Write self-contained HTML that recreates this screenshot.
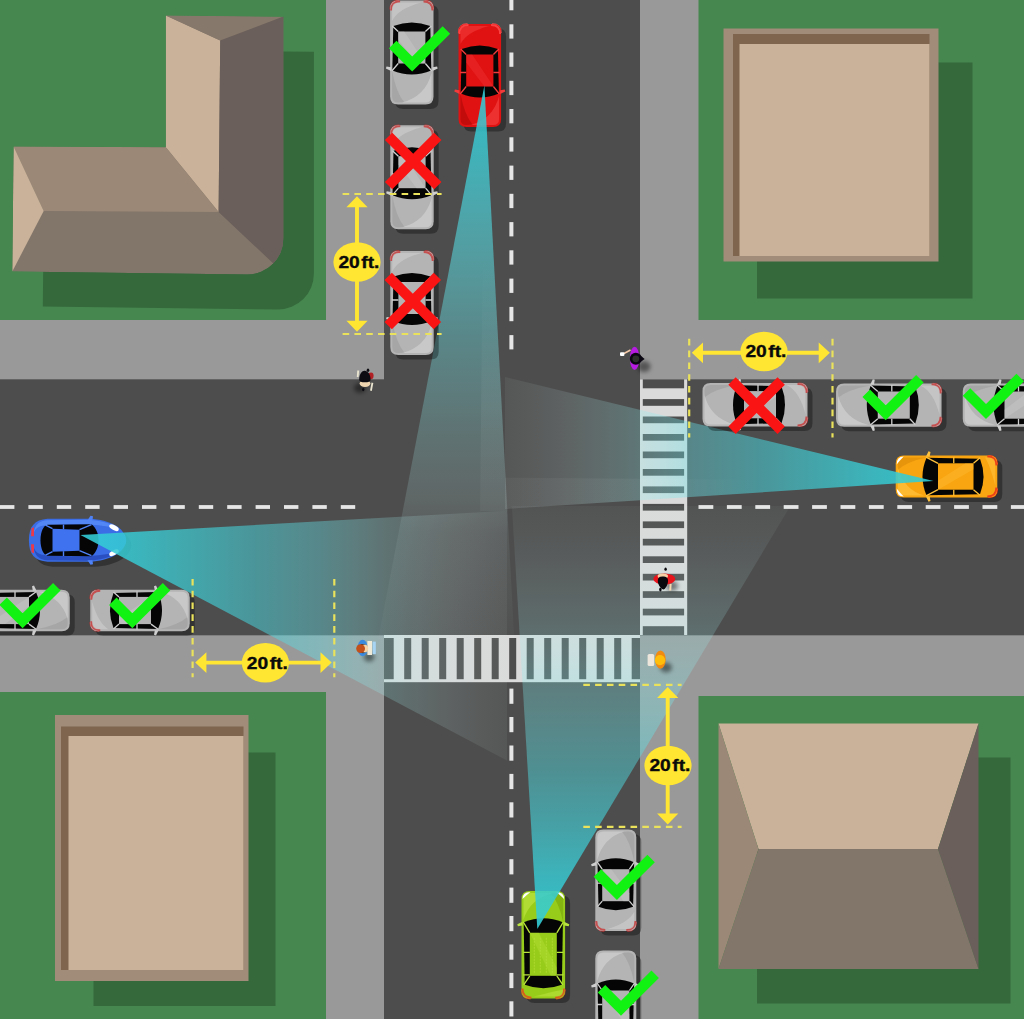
<!DOCTYPE html>
<html lang="en">
<head>
<meta charset="utf-8">
<title>Intersection parking clearance - 20 ft.</title>
<style>html,body{margin:0;padding:0;background:#46874f;}svg{display:block;}</style>
</head>
<body>
<svg width="1024" height="1019" viewBox="0 0 1024 1019">
<defs>
<filter id="blur2" x="-50%" y="-50%" width="200%" height="200%"><feGaussianBlur stdDeviation="2"/></filter>
<filter id="blur1" x="-50%" y="-50%" width="200%" height="200%"><feGaussianBlur stdDeviation="0.9"/></filter>
<clipPath id="clipL"><path d="M165.8,15.5 L283.4,16.8 L283.4,238.6 A36,36 0 0 1 247.4,274.6 L12.3,271.4 L13.6,146.4 L165.8,147.3 Z"/></clipPath>
<linearGradient id="gR" gradientUnits="userSpaceOnUse" x1="484.4" y1="85.6" x2="484.4" y2="645"><stop offset="0" stop-color="rgb(50, 205, 215)" stop-opacity="0.9"/><stop offset="0.08" stop-color="rgb(55, 200, 210)" stop-opacity="0.85"/><stop offset="0.25" stop-color="rgb(80, 215, 222)" stop-opacity="0.62"/><stop offset="0.45" stop-color="rgb(110, 235, 240)" stop-opacity="0.365"/><stop offset="0.61" stop-color="rgb(150, 240, 240)" stop-opacity="0.24"/><stop offset="0.74" stop-color="rgb(190, 235, 235)" stop-opacity="0.16"/><stop offset="0.8" stop-color="rgb(200, 232, 232)" stop-opacity="0.085"/><stop offset="1.0" stop-color="rgb(215, 230, 230)" stop-opacity="0.02"/></linearGradient>
<linearGradient id="gO" gradientUnits="userSpaceOnUse" x1="933.5" y1="481.1" x2="505" y2="481.1"><stop offset="0" stop-color="rgb(50, 205, 215)" stop-opacity="0.9"/><stop offset="0.1" stop-color="rgb(54, 202, 211)" stop-opacity="0.86"/><stop offset="0.27" stop-color="rgb(62, 205, 212)" stop-opacity="0.69"/><stop offset="0.41" stop-color="rgb(72, 212, 220)" stop-opacity="0.53"/><stop offset="0.56" stop-color="rgb(102, 227, 234)" stop-opacity="0.39"/><stop offset="0.7" stop-color="rgb(150, 240, 240)" stop-opacity="0.245"/><stop offset="0.87" stop-color="rgb(198, 228, 228)" stop-opacity="0.135"/><stop offset="1.0" stop-color="rgb(215, 226, 226)" stop-opacity="0.06"/></linearGradient>
<linearGradient id="gG" gradientUnits="userSpaceOnUse" x1="537.3" y1="929" x2="537.3" y2="506"><stop offset="0" stop-color="rgb(50, 205, 215)" stop-opacity="0.9"/><stop offset="0.1" stop-color="rgb(54, 202, 211)" stop-opacity="0.85"/><stop offset="0.25" stop-color="rgb(66, 208, 216)" stop-opacity="0.63"/><stop offset="0.376" stop-color="rgb(80, 218, 224)" stop-opacity="0.47"/><stop offset="0.565" stop-color="rgb(130, 238, 240)" stop-opacity="0.31"/><stop offset="0.7" stop-color="rgb(160, 240, 240)" stop-opacity="0.2"/><stop offset="0.87" stop-color="rgb(195, 235, 235)" stop-opacity="0.1"/><stop offset="1.0" stop-color="rgb(212, 230, 230)" stop-opacity="0.04"/></linearGradient>
<linearGradient id="gB" gradientUnits="userSpaceOnUse" x1="80.5" y1="535" x2="507" y2="535"><stop offset="0" stop-color="rgb(50, 205, 215)" stop-opacity="0.9"/><stop offset="0.1" stop-color="rgb(54, 202, 211)" stop-opacity="0.86"/><stop offset="0.27" stop-color="rgb(62, 205, 212)" stop-opacity="0.69"/><stop offset="0.41" stop-color="rgb(72, 212, 220)" stop-opacity="0.53"/><stop offset="0.56" stop-color="rgb(102, 227, 234)" stop-opacity="0.39"/><stop offset="0.7" stop-color="rgb(150, 240, 240)" stop-opacity="0.245"/><stop offset="0.87" stop-color="rgb(198, 228, 228)" stop-opacity="0.135"/><stop offset="1.0" stop-color="rgb(215, 226, 226)" stop-opacity="0.06"/></linearGradient>
<linearGradient id="iR" gradientUnits="userSpaceOnUse" x1="484.4" y1="85.6" x2="484.4" y2="511"><stop offset="0" stop-color="#fff" stop-opacity="0"/><stop offset="0.4" stop-color="#fff" stop-opacity="0"/><stop offset="0.75" stop-color="#eef6f6" stop-opacity="0.055"/><stop offset="1" stop-color="#eef6f6" stop-opacity="0.04"/></linearGradient>
<linearGradient id="iO" gradientUnits="userSpaceOnUse" x1="933.5" y1="481.1" x2="505" y2="481.1"><stop offset="0" stop-color="#fff" stop-opacity="0"/><stop offset="0.4" stop-color="#fff" stop-opacity="0"/><stop offset="0.75" stop-color="#eef6f6" stop-opacity="0.055"/><stop offset="1" stop-color="#eef6f6" stop-opacity="0.04"/></linearGradient>
<linearGradient id="iG" gradientUnits="userSpaceOnUse" x1="537.3" y1="929" x2="537.3" y2="506"><stop offset="0" stop-color="#fff" stop-opacity="0"/><stop offset="0.4" stop-color="#fff" stop-opacity="0"/><stop offset="0.75" stop-color="#eef6f6" stop-opacity="0.055"/><stop offset="1" stop-color="#eef6f6" stop-opacity="0.04"/></linearGradient>
<linearGradient id="iB" gradientUnits="userSpaceOnUse" x1="80.5" y1="535" x2="507" y2="535"><stop offset="0" stop-color="#fff" stop-opacity="0"/><stop offset="0.4" stop-color="#fff" stop-opacity="0"/><stop offset="0.75" stop-color="#eef6f6" stop-opacity="0.055"/><stop offset="1" stop-color="#eef6f6" stop-opacity="0.04"/></linearGradient>
</defs>
<rect width="1024" height="1019" fill="#46874f"/>
<rect x="326" y="0" width="372.5" height="1019" fill="#999999"/>
<rect x="0" y="320" width="1024" height="372" fill="#999999"/>
<rect x="512" y="320" width="512" height="376" fill="#999999"/>
<rect x="384" y="0" width="256" height="1019" fill="#4d4d4d"/>
<rect x="0" y="379.3" width="1024" height="256" fill="#4d4d4d"/>
<path d="M196.3,50.5 L313.9,51.8 L313.9,273.6 A36,36 0 0 1 277.9,309.6 L42.8,306.4 L44.1,181.4 L196.3,182.3 Z" fill="#35693c"/>
<g clip-path="url(#clipL)">
<path d="M165.8,15.5 L283.4,16.8 L283.4,238.6 A36,36 0 0 1 247.4,274.6 L12.3,271.4 L13.6,146.4 L165.8,147.3 Z" fill="#82756a"/>
<path d="M165.8,15.5 L220.2,40.5 L218.6,212.1 L165.8,147.3 Z" fill="#c9b299"/>
<path d="M165.8,15.5 L283.4,16.8 L220.2,40.5 Z" fill="#86786b"/>
<path d="M290,14 L290,280 L286.5,275.8 L218.6,212.1 L220.2,40.5 Z" fill="#6a5f5a"/>
<path d="M13.6,146.4 L165.8,147.3 L218.6,212.1 L43.7,211.1 Z" fill="#9b8876"/>
<path d="M13.6,146.4 L43.7,211.1 L12.3,271.4 Z" fill="#c9b299"/>
</g>
<rect x="757" y="62.5" width="215.5" height="236.0" fill="#35693c"/>
<rect x="723.5" y="28.5" width="215.0" height="233.0" fill="#a08c78"/>
<rect x="733" y="34" width="196.5" height="222" fill="#7f654e"/>
<rect x="739.5" y="44" width="190.0" height="212" fill="#c9b299"/>
<rect x="93.5" y="752.5" width="182.0" height="253.5" fill="#35693c"/>
<rect x="55" y="715" width="193.5" height="266" fill="#a08c78"/>
<rect x="61" y="726.5" width="182.5" height="243.5" fill="#7f654e"/>
<rect x="68.5" y="736" width="175.0" height="234" fill="#c9b299"/>
<rect x="757" y="757.5" width="253.5" height="246" fill="#35693c"/>
<path d="M718.5,723.5 L978.5,723.5 L938,849 L758.5,849 Z" fill="#c9b299"/>
<path d="M718.5,723.5 L758.5,849 L718.5,969 Z" fill="#9b8876"/>
<path d="M978.5,723.5 L938,849 L978.5,969 Z" fill="#6a5f5a"/>
<path d="M758.5,849 L938,849 L978.5,969 L718.5,969 Z" fill="#82756a"/>
<rect x="509.4" y="0.0" width="4" height="10.3" fill="#e6e6e6"/>
<rect x="509.4" y="24.3" width="4" height="14.3" fill="#e6e6e6"/>
<rect x="509.4" y="52.5" width="4" height="14.3" fill="#e6e6e6"/>
<rect x="509.4" y="80.8" width="4" height="14.3" fill="#e6e6e6"/>
<rect x="509.4" y="109.0" width="4" height="14.3" fill="#e6e6e6"/>
<rect x="509.4" y="137.3" width="4" height="14.3" fill="#e6e6e6"/>
<rect x="509.4" y="165.6" width="4" height="14.3" fill="#e6e6e6"/>
<rect x="509.4" y="193.8" width="4" height="14.3" fill="#e6e6e6"/>
<rect x="509.4" y="222.1" width="4" height="14.3" fill="#e6e6e6"/>
<rect x="509.4" y="250.3" width="4" height="14.3" fill="#e6e6e6"/>
<rect x="509.4" y="278.6" width="4" height="14.3" fill="#e6e6e6"/>
<rect x="509.4" y="306.9" width="4" height="14.3" fill="#e6e6e6"/>
<rect x="509.4" y="335.1" width="4" height="14.3" fill="#e6e6e6"/>
<rect x="509.4" y="688.6" width="4" height="15.2" fill="#e6e6e6"/>
<rect x="509.4" y="717.0" width="4" height="15.2" fill="#e6e6e6"/>
<rect x="509.4" y="745.5" width="4" height="15.2" fill="#e6e6e6"/>
<rect x="509.4" y="773.9" width="4" height="15.2" fill="#e6e6e6"/>
<rect x="509.4" y="802.3" width="4" height="15.2" fill="#e6e6e6"/>
<rect x="509.4" y="830.7" width="4" height="15.2" fill="#e6e6e6"/>
<rect x="509.4" y="859.2" width="4" height="15.2" fill="#e6e6e6"/>
<rect x="509.4" y="887.6" width="4" height="15.2" fill="#e6e6e6"/>
<rect x="509.4" y="916.0" width="4" height="15.2" fill="#e6e6e6"/>
<rect x="509.4" y="944.5" width="4" height="15.2" fill="#e6e6e6"/>
<rect x="509.4" y="972.9" width="4" height="15.2" fill="#e6e6e6"/>
<rect x="509.4" y="1001.3" width="4" height="15.2" fill="#e6e6e6"/>
<rect x="0.0" y="505.1" width="14.4" height="3.8" fill="#e6e6e6"/>
<rect x="28.4" y="505.1" width="14.4" height="3.8" fill="#e6e6e6"/>
<rect x="56.8" y="505.1" width="14.4" height="3.8" fill="#e6e6e6"/>
<rect x="85.2" y="505.1" width="14.4" height="3.8" fill="#e6e6e6"/>
<rect x="113.6" y="505.1" width="14.4" height="3.8" fill="#e6e6e6"/>
<rect x="142.0" y="505.1" width="14.4" height="3.8" fill="#e6e6e6"/>
<rect x="170.4" y="505.1" width="14.4" height="3.8" fill="#e6e6e6"/>
<rect x="198.8" y="505.1" width="14.4" height="3.8" fill="#e6e6e6"/>
<rect x="227.2" y="505.1" width="14.4" height="3.8" fill="#e6e6e6"/>
<rect x="255.6" y="505.1" width="14.4" height="3.8" fill="#e6e6e6"/>
<rect x="284.0" y="505.1" width="14.4" height="3.8" fill="#e6e6e6"/>
<rect x="312.4" y="505.1" width="14.4" height="3.8" fill="#e6e6e6"/>
<rect x="340.8" y="505.1" width="14.4" height="3.8" fill="#e6e6e6"/>
<rect x="698.5" y="505.1" width="14.8" height="3.8" fill="#e6e6e6"/>
<rect x="726.9" y="505.1" width="14.8" height="3.8" fill="#e6e6e6"/>
<rect x="755.3" y="505.1" width="14.8" height="3.8" fill="#e6e6e6"/>
<rect x="783.7" y="505.1" width="14.8" height="3.8" fill="#e6e6e6"/>
<rect x="812.1" y="505.1" width="14.8" height="3.8" fill="#e6e6e6"/>
<rect x="840.5" y="505.1" width="14.8" height="3.8" fill="#e6e6e6"/>
<rect x="868.9" y="505.1" width="14.8" height="3.8" fill="#e6e6e6"/>
<rect x="897.3" y="505.1" width="14.8" height="3.8" fill="#e6e6e6"/>
<rect x="925.7" y="505.1" width="14.8" height="3.8" fill="#e6e6e6"/>
<rect x="954.1" y="505.1" width="14.8" height="3.8" fill="#e6e6e6"/>
<rect x="982.5" y="505.1" width="14.8" height="3.8" fill="#e6e6e6"/>
<rect x="1010.9" y="505.1" width="13.1" height="3.8" fill="#e6e6e6"/>
<rect x="384" y="635" width="256" height="47.2" fill="#dadada"/>
<rect x="384.0" y="638" width="9.7" height="41.2" fill="#4d4d4d"/>
<rect x="404.2" y="638" width="7.0" height="41.2" fill="#4d4d4d"/>
<rect x="421.7" y="638" width="7.0" height="41.2" fill="#4d4d4d"/>
<rect x="439.2" y="638" width="7.0" height="41.2" fill="#4d4d4d"/>
<rect x="456.7" y="638" width="7.0" height="41.2" fill="#4d4d4d"/>
<rect x="474.2" y="638" width="7.0" height="41.2" fill="#4d4d4d"/>
<rect x="491.7" y="638" width="7.0" height="41.2" fill="#4d4d4d"/>
<rect x="509.2" y="638" width="7.0" height="41.2" fill="#4d4d4d"/>
<rect x="526.7" y="638" width="7.0" height="41.2" fill="#4d4d4d"/>
<rect x="544.2" y="638" width="7.0" height="41.2" fill="#4d4d4d"/>
<rect x="561.7" y="638" width="7.0" height="41.2" fill="#4d4d4d"/>
<rect x="579.2" y="638" width="7.0" height="41.2" fill="#4d4d4d"/>
<rect x="596.7" y="638" width="7.0" height="41.2" fill="#4d4d4d"/>
<rect x="614.2" y="638" width="7.0" height="41.2" fill="#4d4d4d"/>
<rect x="631.7" y="638" width="8.3" height="41.2" fill="#4d4d4d"/>
<rect x="640" y="379.3" width="47.2" height="255.7" fill="#dadada"/>
<rect x="642.8" y="379.3" width="41.3" height="9.0" fill="#4d4d4d"/>
<rect x="642.8" y="399.1" width="41.3" height="6.7" fill="#4d4d4d"/>
<rect x="642.8" y="416.5" width="41.3" height="6.7" fill="#4d4d4d"/>
<rect x="642.8" y="434.0" width="41.3" height="6.7" fill="#4d4d4d"/>
<rect x="642.8" y="451.5" width="41.3" height="6.7" fill="#4d4d4d"/>
<rect x="642.8" y="469.0" width="41.3" height="6.7" fill="#4d4d4d"/>
<rect x="642.8" y="486.4" width="41.3" height="6.7" fill="#4d4d4d"/>
<rect x="642.8" y="503.9" width="41.3" height="6.7" fill="#4d4d4d"/>
<rect x="642.8" y="521.4" width="41.3" height="6.7" fill="#4d4d4d"/>
<rect x="642.8" y="538.8" width="41.3" height="6.7" fill="#4d4d4d"/>
<rect x="642.8" y="556.3" width="41.3" height="6.7" fill="#4d4d4d"/>
<rect x="642.8" y="573.8" width="41.3" height="6.7" fill="#4d4d4d"/>
<rect x="642.8" y="591.2" width="41.3" height="6.7" fill="#4d4d4d"/>
<rect x="642.8" y="608.7" width="41.3" height="6.7" fill="#4d4d4d"/>
<rect x="642.8" y="626.2" width="41.3" height="8.8" fill="#4d4d4d"/>
<g transform="translate(479.8,75.5) rotate(180)"><path d="M-13.3,-51.5 L13.3,-51.5 Q21.3,-51.5 21.3,-43.5 L21.3,43.5 Q21.3,51.5 13.3,51.5 L-13.3,51.5 Q-21.3,51.5 -21.3,43.5 L-21.3,-43.5 Q-21.3,-51.5 -13.3,-51.5 Z" transform="translate(-5.00,-4.50)" fill="#000" fill-opacity="0.33"/><path d="M-21.900000000000002,42.5 Q-21.900000000000002,52.3 -12.3,52.3 L-12.3,49.5 L-19.3,42.5 Z" fill="#ff5050"/><path d="M21.900000000000002,42.5 Q21.900000000000002,52.3 12.3,52.3 L12.3,49.5 L19.3,42.5 Z" fill="#ff5050"/><path d="M-13.3,-51.5 L13.3,-51.5 Q21.3,-51.5 21.3,-43.5 L21.3,43.5 Q21.3,51.5 13.3,51.5 L-13.3,51.5 Q-21.3,51.5 -21.3,43.5 L-21.3,-43.5 Q-21.3,-51.5 -13.3,-51.5 Z" fill="#e01212"/><path d="M-20.3,41.5 Q-20.3,50.5 -11.3,50.5 M20.3,41.5 Q20.3,50.5 11.3,50.5" stroke="#ff5050" stroke-width="1.9" fill="none" stroke-opacity="0.8"/><path d="M-19.3,-43.5 Q-19.3,-49.5 -13.3,-49.5 L9.3,-49.5 Q-13.3,-43.5 -19.3,-20.5 Z" fill="#f23b3b" fill-opacity="0.75"/><path d="M19.3,43.5 Q19.3,49.5 13.3,49.5 L-9.3,49.5 Q13.3,43.5 19.3,31.5 Z" fill="#f23b3b" fill-opacity="0.6"/><path d="M19.3,-43.5 L19.3,-18.5 Q15.3,-39.5 7.300000000000001,-49.0 L13.3,-49.5 Q19.3,-49.5 19.3,-43.5 Z" fill="#8a0000" fill-opacity="0.35"/><path d="M-20.3,-18.5 L-25.5,-16.0 L-24.900000000000002,-14.0 L-20.3,-14.8 Z" fill="#f23b3b"/><path d="M20.3,-18.5 L25.5,-16.0 L24.900000000000002,-14.0 L20.3,-14.8 Z" fill="#f23b3b"/><path d="M-19.1,-18.0 Q0,-26.0 19.1,-18.0 L18.1,26.5 Q0,33.5 -18.1,26.5 Z" fill="#050505"/><rect x="-13.6" y="-11" width="27.2" height="32" fill="#e01212"/><path d="M-13.6,-11 L-19.6,-18.5 M13.6,-11 L19.6,-18.5 M-13.6,21 L-19.1,26.5 M13.6,21 L19.1,26.5" stroke="#f23b3b" stroke-width="1.3" fill="none"/><path d="M-13.6,3.0 L-19.6,3.0 M13.6,3.0 L19.6,3.0" stroke="#f23b3b" stroke-width="1.3" fill="none"/><path d="M-13.6,-11 L-4.6,-11 L13.6,13 L13.6,21 L7.6,21 Z" fill="#f23b3b" fill-opacity="0.35"/></g>
<g transform="translate(946.5,476.5) rotate(-90)"><path d="M-13.0,-50.8 L13.0,-50.8 Q21.0,-50.8 21.0,-42.8 L21.0,42.8 Q21.0,50.8 13.0,50.8 L-13.0,50.8 Q-21.0,50.8 -21.0,42.8 L-21.0,-42.8 Q-21.0,-50.8 -13.0,-50.8 Z" transform="translate(-4.50,5.00)" fill="#000" fill-opacity="0.33"/><path d="M-21.6,41.8 Q-21.6,51.599999999999994 -12.0,51.599999999999994 L-12.0,48.8 L-19.0,41.8 Z" fill="#e8281c"/><path d="M21.6,41.8 Q21.6,51.599999999999994 12.0,51.599999999999994 L12.0,48.8 L19.0,41.8 Z" fill="#e8281c"/><path d="M-13.0,-50.8 L13.0,-50.8 Q21.0,-50.8 21.0,-42.8 L21.0,42.8 Q21.0,50.8 13.0,50.8 L-13.0,50.8 Q-21.0,50.8 -21.0,42.8 L-21.0,-42.8 Q-21.0,-50.8 -13.0,-50.8 Z" fill="#f9a511"/><path d="M-20.0,40.8 Q-20.0,49.8 -11.0,49.8 M20.0,40.8 Q20.0,49.8 11.0,49.8" stroke="#e8281c" stroke-width="1.9" fill="none" stroke-opacity="0.8"/><path d="M-19.0,-42.8 Q-19.0,-48.8 -13.0,-48.8 L9.0,-48.8 Q-13.0,-42.8 -19.0,-22.5 Z" fill="#ffc23c" fill-opacity="0.75"/><path d="M19.0,42.8 Q19.0,48.8 13.0,48.8 L-9.0,48.8 Q13.0,42.8 19.0,38.5 Z" fill="#ffc23c" fill-opacity="0.6"/><path d="M19.0,-42.8 L19.0,-20.5 Q15.0,-38.8 7.0,-48.3 L13.0,-48.8 Q19.0,-48.8 19.0,-42.8 Z" fill="#c77700" fill-opacity="0.35"/><path d="M-20.0,-42.8 Q-20.0,-49.8 -12.0,-49.8 Q-16.0,-46.8 -20.0,-42.8 Z" fill="#fff"/><path d="M20.0,-42.8 Q20.0,-49.8 12.0,-49.8 Q16.0,-46.8 20.0,-42.8 Z" fill="#fff"/><path d="M-20.0,-20.5 L-25.2,-18.0 L-24.6,-16.0 L-20.0,-16.8 Z" fill="#ffc23c"/><path d="M20.0,-20.5 L25.2,-18.0 L24.6,-16.0 L20.0,-16.8 Z" fill="#ffc23c"/><path d="M-18.8,-20.0 Q0,-28.0 18.8,-20.0 L17.8,33.5 Q0,40.5 -17.8,33.5 Z" fill="#050505"/><rect x="-13.2" y="-8.5" width="26.4" height="35.5" fill="#f9a511"/><path d="M-13.2,-8.5 L-19.3,-20.5 M13.2,-8.5 L19.3,-20.5 M-13.2,27 L-18.8,33.5 M13.2,27 L18.8,33.5" stroke="#ffc23c" stroke-width="1.3" fill="none"/><path d="M-13.2,7.25 L-19.3,7.25 M13.2,7.25 L19.3,7.25" stroke="#ffc23c" stroke-width="1.3" fill="none"/><path d="M-13.2,-8.5 L-4.199999999999999,-8.5 L13.2,19 L13.2,27 L7.199999999999999,27 Z" fill="#ffc23c" fill-opacity="0.35"/></g>
<g transform="translate(543.3,944.8) rotate(0)"><path d="M-13.8,-53.8 L13.8,-53.8 Q21.8,-53.8 21.8,-45.8 L21.8,45.8 Q21.8,53.8 13.8,53.8 L-13.8,53.8 Q-21.8,53.8 -21.8,45.8 L-21.8,-45.8 Q-21.8,-53.8 -13.8,-53.8 Z" transform="translate(5.00,4.50)" fill="#000" fill-opacity="0.33"/><path d="M-22.400000000000002,44.8 Q-22.400000000000002,54.599999999999994 -12.8,54.599999999999994 L-12.8,51.8 L-19.8,44.8 Z" fill="#e8421c"/><path d="M22.400000000000002,44.8 Q22.400000000000002,54.599999999999994 12.8,54.599999999999994 L12.8,51.8 L19.8,44.8 Z" fill="#e8421c"/><path d="M-13.8,-53.8 L13.8,-53.8 Q21.8,-53.8 21.8,-45.8 L21.8,45.8 Q21.8,53.8 13.8,53.8 L-13.8,53.8 Q-21.8,53.8 -21.8,45.8 L-21.8,-45.8 Q-21.8,-53.8 -13.8,-53.8 Z" fill="#98cc1a"/><path d="M-20.8,43.8 Q-20.8,52.8 -11.8,52.8 M20.8,43.8 Q20.8,52.8 11.8,52.8" stroke="#e8421c" stroke-width="1.9" fill="none" stroke-opacity="0.8"/><path d="M-19.8,-45.8 Q-19.8,-51.8 -13.8,-51.8 L9.8,-51.8 Q-13.8,-45.8 -19.8,-25 Z" fill="#b9e23e" fill-opacity="0.75"/><path d="M19.8,45.8 Q19.8,51.8 13.8,51.8 L-9.8,51.8 Q13.8,45.8 19.8,45 Z" fill="#b9e23e" fill-opacity="0.6"/><path d="M19.8,-45.8 L19.8,-23 Q15.8,-41.8 7.800000000000001,-51.3 L13.8,-51.8 Q19.8,-51.8 19.8,-45.8 Z" fill="#5e8a00" fill-opacity="0.35"/><path d="M-20.8,-45.8 Q-20.8,-52.8 -12.8,-52.8 Q-16.8,-49.8 -20.8,-45.8 Z" fill="#fff"/><path d="M20.8,-45.8 Q20.8,-52.8 12.8,-52.8 Q16.8,-49.8 20.8,-45.8 Z" fill="#fff"/><path d="M-20.8,-23.0 L-26.0,-20.5 L-25.400000000000002,-18.5 L-20.8,-19.3 Z" fill="#b9e23e"/><path d="M20.8,-23.0 L26.0,-20.5 L25.400000000000002,-18.5 L20.8,-19.3 Z" fill="#b9e23e"/><path d="M-19.6,-22.5 Q0,-30.5 19.6,-22.5 L18.6,40 Q0,47 -18.6,40 Z" fill="#050505"/><rect x="-13.5" y="-12" width="27.0" height="43" fill="#98cc1a"/><path d="M-13.5,-12 L-20.1,-23 M13.5,-12 L20.1,-23 M-13.5,31 L-19.6,40 M13.5,31 L19.6,40" stroke="#b9e23e" stroke-width="1.3" fill="none"/><path d="M-13.5,7.5 L-20.1,7.5 M13.5,7.5 L20.1,7.5" stroke="#b9e23e" stroke-width="1.3" fill="none"/><path d="M-13.5,30 L-20.1,30 M13.5,30 L20.1,30" stroke="#b9e23e" stroke-width="1.3" fill="none"/><path d="M-9,-7 L-9,28" stroke="#b9e23e" stroke-width="0.6" stroke-dasharray="2 1" fill="none"/><path d="M-3,-7 L-3,28" stroke="#b9e23e" stroke-width="0.6" stroke-dasharray="2 1" fill="none"/><path d="M3,-7 L3,28" stroke="#b9e23e" stroke-width="0.6" stroke-dasharray="2 1" fill="none"/><path d="M9,-7 L9,28" stroke="#b9e23e" stroke-width="0.6" stroke-dasharray="2 1" fill="none"/><path d="M-13.5,-12 L-4.5,-12 L13.5,23 L13.5,31 L7.5,31 Z" fill="#b9e23e" fill-opacity="0.35"/></g>
<g transform="translate(77.5,540.2)"><path d="M-48.6,0 C-48.6,-14 -43,-20.5 -30,-21.5 L8,-21.5 C30,-21.5 44,-14 48,-4 C49,-1 49,1 48,4 C44,14 30,21.5 8,21.5 L-30,21.5 C-43,20.5 -48.6,14 -48.6,0 Z" transform="translate(5,5)" fill="#000" fill-opacity="0.33"/><path d="M-48.6,0 C-48.6,-14 -43,-20.5 -30,-21.5 L8,-21.5 C30,-21.5 44,-14 48,-4 C49,-1 49,1 48,4 C44,14 30,21.5 8,21.5 L-30,21.5 C-43,20.5 -48.6,14 -48.6,0 Z" fill="#3a6de6"/><path d="M-44,-6 C-43,-16 -38,-19.5 -30,-20 L8,-20.5 C22,-20.5 34,-17 41,-11 C30,-15 14,-16 -6,-16 L-30,-15 C-38,-15 -43,-12 -44,-6 Z" fill="#5b8dfa" fill-opacity="0.8"/><path d="M-44,6 C-43,16 -38,19.5 -30,20 L8,20.5 C22,20.5 34,17 41,11 C30,15 14,16 -6,16 L-30,15 C-38,15 -43,12 -44,6 Z" fill="#2747b8" fill-opacity="0.8"/><path d="M-37,0 C-37,-9 -34,-14.5 -30,-15.5 L14,-16 C19,-12 21,-6 21,0 C21,6 19,12 14,16 L-30,15.5 C-34,14.5 -37,9 -37,0 Z" fill="#050505"/><path d="M-25,-11.5 L2,-10.5 L2,10.5 L-25,11.5 Z" fill="#3f72ee"/><path d="M-25,-11.5 L-32,-15 M-25,11.5 L-32,15 M2,-10.5 L14,-15.5 M2,10.5 L14,15.5 M-14,-11 L-14,-15.8 M-14,11 L-14,15.8" stroke="#4f82f6" stroke-width="1.4" fill="none"/><ellipse cx="36.5" cy="-12.5" rx="5.2" ry="2.4" transform="rotate(28 36.5 -12.5)" fill="#fff"/><ellipse cx="36.5" cy="12.5" rx="5.2" ry="2.4" transform="rotate(-28 36.5 12.5)" fill="#fff"/><path d="M-46,-12 L-43.5,-13 L-43.5,-4 L-46.5,-4 Z M-46,12 L-43.5,13 L-43.5,4 L-46.5,4 Z" fill="#e83a4a"/><path d="M10,-20 L13,-24.5 L15.5,-24 L15,-20 Z M10,20 L13,24.5 L15.5,24 L15,20 Z" fill="#4f82f6"/></g>
<path d="M933.5,481.1 L505.0,377.0 L505.0,509.0 Z" fill="url(#gO)"/>
<path d="M537.3,929 L511.9,506.0 L790.3,506.0 Z" fill="url(#gG)"/>
<path d="M80.5,535 L507.0,510.7 L507.0,760.6 Z" fill="url(#gB)"/>
<path d="M484.4,85.6 L378.0,640.0 L514.3,640.0 Z" fill="url(#gR)"/>
<path d="M933.5,481.1 L505.0,477.7 L505.0,509.0 Z" fill="url(#iO)"/>
<path d="M484.4,85.6 L480.1,511.0 L507.4,511.0 Z" fill="url(#iR)"/>
<g transform="translate(411.8,52.5) rotate(180)"><path d="M-13.7,-52.0 L13.7,-52.0 Q21.7,-52.0 21.7,-44.0 L21.7,44.0 Q21.7,52.0 13.7,52.0 L-13.7,52.0 Q-21.7,52.0 -21.7,44.0 L-21.7,-44.0 Q-21.7,-52.0 -13.7,-52.0 Z" transform="translate(-5.00,-4.50)" fill="#000" fill-opacity="0.33"/><path d="M-22.3,43.0 Q-22.3,52.8 -12.7,52.8 L-12.7,50.0 L-19.7,43.0 Z" fill="#c93434"/><path d="M22.3,43.0 Q22.3,52.8 12.7,52.8 L12.7,50.0 L19.7,43.0 Z" fill="#c93434"/><path d="M-13.7,-52.0 L13.7,-52.0 Q21.7,-52.0 21.7,-44.0 L21.7,44.0 Q21.7,52.0 13.7,52.0 L-13.7,52.0 Q-21.7,52.0 -21.7,44.0 L-21.7,-44.0 Q-21.7,-52.0 -13.7,-52.0 Z" fill="#b4b4b4"/><path d="M-20.7,42.0 Q-20.7,51.0 -11.7,51.0 M20.7,42.0 Q20.7,51.0 11.7,51.0" stroke="#c93434" stroke-width="1.9" fill="none" stroke-opacity="0.8"/><path d="M-19.7,-44.0 Q-19.7,-50.0 -13.7,-50.0 L9.7,-50.0 Q-13.7,-44.0 -19.7,-20.5 Z" fill="#cfcfcf" fill-opacity="0.75"/><path d="M19.7,44.0 Q19.7,50.0 13.7,50.0 L-9.7,50.0 Q13.7,44.0 19.7,31.5 Z" fill="#cfcfcf" fill-opacity="0.6"/><path d="M19.7,-44.0 L19.7,-18.5 Q15.7,-40.0 7.699999999999999,-49.5 L13.7,-50.0 Q19.7,-50.0 19.7,-44.0 Z" fill="#8c8c8c" fill-opacity="0.35"/><path d="M-20.7,-18.5 L-25.9,-16.0 L-25.3,-14.0 L-20.7,-14.8 Z" fill="#cfcfcf"/><path d="M20.7,-18.5 L25.9,-16.0 L25.3,-14.0 L20.7,-14.8 Z" fill="#cfcfcf"/><path d="M-19.5,-18.0 Q0,-26.0 19.5,-18.0 L18.5,26.5 Q0,33.5 -18.5,26.5 Z" fill="#050505"/><rect x="-13.6" y="-11" width="27.2" height="32" fill="#b4b4b4"/><path d="M-13.6,-11 L-20.0,-18.5 M13.6,-11 L20.0,-18.5 M-13.6,21 L-19.5,26.5 M13.6,21 L19.5,26.5" stroke="#cfcfcf" stroke-width="1.3" fill="none"/><path d="M-13.6,3.0 L-20.0,3.0 M13.6,3.0 L20.0,3.0" stroke="#cfcfcf" stroke-width="1.3" fill="none"/><path d="M-13.6,-11 L-4.6,-11 L13.6,13 L13.6,21 L7.6,21 Z" fill="#cfcfcf" fill-opacity="0.35"/></g>
<g transform="translate(412,177.2) rotate(180)"><path d="M-13.7,-52.0 L13.7,-52.0 Q21.7,-52.0 21.7,-44.0 L21.7,44.0 Q21.7,52.0 13.7,52.0 L-13.7,52.0 Q-21.7,52.0 -21.7,44.0 L-21.7,-44.0 Q-21.7,-52.0 -13.7,-52.0 Z" transform="translate(-5.00,-4.50)" fill="#000" fill-opacity="0.33"/><path d="M-22.3,43.0 Q-22.3,52.8 -12.7,52.8 L-12.7,50.0 L-19.7,43.0 Z" fill="#c93434"/><path d="M22.3,43.0 Q22.3,52.8 12.7,52.8 L12.7,50.0 L19.7,43.0 Z" fill="#c93434"/><path d="M-13.7,-52.0 L13.7,-52.0 Q21.7,-52.0 21.7,-44.0 L21.7,44.0 Q21.7,52.0 13.7,52.0 L-13.7,52.0 Q-21.7,52.0 -21.7,44.0 L-21.7,-44.0 Q-21.7,-52.0 -13.7,-52.0 Z" fill="#b4b4b4"/><path d="M-20.7,42.0 Q-20.7,51.0 -11.7,51.0 M20.7,42.0 Q20.7,51.0 11.7,51.0" stroke="#c93434" stroke-width="1.9" fill="none" stroke-opacity="0.8"/><path d="M-19.7,-44.0 Q-19.7,-50.0 -13.7,-50.0 L9.7,-50.0 Q-13.7,-44.0 -19.7,-20.5 Z" fill="#cfcfcf" fill-opacity="0.75"/><path d="M19.7,44.0 Q19.7,50.0 13.7,50.0 L-9.7,50.0 Q13.7,44.0 19.7,31.5 Z" fill="#cfcfcf" fill-opacity="0.6"/><path d="M19.7,-44.0 L19.7,-18.5 Q15.7,-40.0 7.699999999999999,-49.5 L13.7,-50.0 Q19.7,-50.0 19.7,-44.0 Z" fill="#8c8c8c" fill-opacity="0.35"/><path d="M-20.7,-18.5 L-25.9,-16.0 L-25.3,-14.0 L-20.7,-14.8 Z" fill="#cfcfcf"/><path d="M20.7,-18.5 L25.9,-16.0 L25.3,-14.0 L20.7,-14.8 Z" fill="#cfcfcf"/><path d="M-19.5,-18.0 Q0,-26.0 19.5,-18.0 L18.5,26.5 Q0,33.5 -18.5,26.5 Z" fill="#050505"/><rect x="-13.6" y="-11" width="27.2" height="32" fill="#b4b4b4"/><path d="M-13.6,-11 L-20.0,-18.5 M13.6,-11 L20.0,-18.5 M-13.6,21 L-19.5,26.5 M13.6,21 L19.5,26.5" stroke="#cfcfcf" stroke-width="1.3" fill="none"/><path d="M-13.6,3.0 L-20.0,3.0 M13.6,3.0 L20.0,3.0" stroke="#cfcfcf" stroke-width="1.3" fill="none"/><path d="M-13.6,-11 L-4.6,-11 L13.6,13 L13.6,21 L7.6,21 Z" fill="#cfcfcf" fill-opacity="0.35"/></g>
<g transform="translate(412,303) rotate(180)"><path d="M-13.7,-52.0 L13.7,-52.0 Q21.7,-52.0 21.7,-44.0 L21.7,44.0 Q21.7,52.0 13.7,52.0 L-13.7,52.0 Q-21.7,52.0 -21.7,44.0 L-21.7,-44.0 Q-21.7,-52.0 -13.7,-52.0 Z" transform="translate(-5.00,-4.50)" fill="#000" fill-opacity="0.33"/><path d="M-22.3,43.0 Q-22.3,52.8 -12.7,52.8 L-12.7,50.0 L-19.7,43.0 Z" fill="#c93434"/><path d="M22.3,43.0 Q22.3,52.8 12.7,52.8 L12.7,50.0 L19.7,43.0 Z" fill="#c93434"/><path d="M-13.7,-52.0 L13.7,-52.0 Q21.7,-52.0 21.7,-44.0 L21.7,44.0 Q21.7,52.0 13.7,52.0 L-13.7,52.0 Q-21.7,52.0 -21.7,44.0 L-21.7,-44.0 Q-21.7,-52.0 -13.7,-52.0 Z" fill="#b4b4b4"/><path d="M-20.7,42.0 Q-20.7,51.0 -11.7,51.0 M20.7,42.0 Q20.7,51.0 11.7,51.0" stroke="#c93434" stroke-width="1.9" fill="none" stroke-opacity="0.8"/><path d="M-19.7,-44.0 Q-19.7,-50.0 -13.7,-50.0 L9.7,-50.0 Q-13.7,-44.0 -19.7,-20.5 Z" fill="#cfcfcf" fill-opacity="0.75"/><path d="M19.7,44.0 Q19.7,50.0 13.7,50.0 L-9.7,50.0 Q13.7,44.0 19.7,31.5 Z" fill="#cfcfcf" fill-opacity="0.6"/><path d="M19.7,-44.0 L19.7,-18.5 Q15.7,-40.0 7.699999999999999,-49.5 L13.7,-50.0 Q19.7,-50.0 19.7,-44.0 Z" fill="#8c8c8c" fill-opacity="0.35"/><path d="M-20.7,-18.5 L-25.9,-16.0 L-25.3,-14.0 L-20.7,-14.8 Z" fill="#cfcfcf"/><path d="M20.7,-18.5 L25.9,-16.0 L25.3,-14.0 L20.7,-14.8 Z" fill="#cfcfcf"/><path d="M-19.5,-18.0 Q0,-26.0 19.5,-18.0 L18.5,26.5 Q0,33.5 -18.5,26.5 Z" fill="#050505"/><rect x="-13.6" y="-11" width="27.2" height="32" fill="#b4b4b4"/><path d="M-13.6,-11 L-20.0,-18.5 M13.6,-11 L20.0,-18.5 M-13.6,21 L-19.5,26.5 M13.6,21 L19.5,26.5" stroke="#cfcfcf" stroke-width="1.3" fill="none"/><path d="M-13.6,3.0 L-20.0,3.0 M13.6,3.0 L20.0,3.0" stroke="#cfcfcf" stroke-width="1.3" fill="none"/><path d="M-13.6,-11 L-4.6,-11 L13.6,13 L13.6,21 L7.6,21 Z" fill="#cfcfcf" fill-opacity="0.35"/></g>
<g transform="translate(755,404.7) rotate(-90)"><path d="M-13.7,-52.5 L13.7,-52.5 Q21.7,-52.5 21.7,-44.5 L21.7,44.5 Q21.7,52.5 13.7,52.5 L-13.7,52.5 Q-21.7,52.5 -21.7,44.5 L-21.7,-44.5 Q-21.7,-52.5 -13.7,-52.5 Z" transform="translate(-4.50,5.00)" fill="#000" fill-opacity="0.33"/><path d="M-22.3,43.5 Q-22.3,53.3 -12.7,53.3 L-12.7,50.5 L-19.7,43.5 Z" fill="#c93434"/><path d="M22.3,43.5 Q22.3,53.3 12.7,53.3 L12.7,50.5 L19.7,43.5 Z" fill="#c93434"/><path d="M-13.7,-52.5 L13.7,-52.5 Q21.7,-52.5 21.7,-44.5 L21.7,44.5 Q21.7,52.5 13.7,52.5 L-13.7,52.5 Q-21.7,52.5 -21.7,44.5 L-21.7,-44.5 Q-21.7,-52.5 -13.7,-52.5 Z" fill="#b4b4b4"/><path d="M-20.7,42.5 Q-20.7,51.5 -11.7,51.5 M20.7,42.5 Q20.7,51.5 11.7,51.5" stroke="#c93434" stroke-width="1.9" fill="none" stroke-opacity="0.8"/><path d="M-19.7,-44.5 Q-19.7,-50.5 -13.7,-50.5 L9.7,-50.5 Q-13.7,-44.5 -19.7,-20.5 Z" fill="#cfcfcf" fill-opacity="0.75"/><path d="M19.7,44.5 Q19.7,50.5 13.7,50.5 L-9.7,50.5 Q13.7,44.5 19.7,31.5 Z" fill="#cfcfcf" fill-opacity="0.6"/><path d="M19.7,-44.5 L19.7,-18.5 Q15.7,-40.5 7.699999999999999,-50.0 L13.7,-50.5 Q19.7,-50.5 19.7,-44.5 Z" fill="#8c8c8c" fill-opacity="0.35"/><path d="M-20.7,-18.5 L-25.9,-16.0 L-25.3,-14.0 L-20.7,-14.8 Z" fill="#cfcfcf"/><path d="M20.7,-18.5 L25.9,-16.0 L25.3,-14.0 L20.7,-14.8 Z" fill="#cfcfcf"/><path d="M-19.5,-18.0 Q0,-26.0 19.5,-18.0 L18.5,26.5 Q0,33.5 -18.5,26.5 Z" fill="#050505"/><rect x="-13.6" y="-11" width="27.2" height="32" fill="#b4b4b4"/><path d="M-13.6,-11 L-20.0,-18.5 M13.6,-11 L20.0,-18.5 M-13.6,21 L-19.5,26.5 M13.6,21 L19.5,26.5" stroke="#cfcfcf" stroke-width="1.3" fill="none"/><path d="M-13.6,3.0 L-20.0,3.0 M13.6,3.0 L20.0,3.0" stroke="#cfcfcf" stroke-width="1.3" fill="none"/><path d="M-13.6,-11 L-4.6,-11 L13.6,13 L13.6,21 L7.6,21 Z" fill="#cfcfcf" fill-opacity="0.35"/></g>
<g transform="translate(888.8,405.1) rotate(-90)"><path d="M-13.7,-52.75 L13.7,-52.75 Q21.7,-52.75 21.7,-44.75 L21.7,44.75 Q21.7,52.75 13.7,52.75 L-13.7,52.75 Q-21.7,52.75 -21.7,44.75 L-21.7,-44.75 Q-21.7,-52.75 -13.7,-52.75 Z" transform="translate(-4.50,5.00)" fill="#000" fill-opacity="0.33"/><path d="M-22.3,43.75 Q-22.3,53.55 -12.7,53.55 L-12.7,50.75 L-19.7,43.75 Z" fill="#c93434"/><path d="M22.3,43.75 Q22.3,53.55 12.7,53.55 L12.7,50.75 L19.7,43.75 Z" fill="#c93434"/><path d="M-13.7,-52.75 L13.7,-52.75 Q21.7,-52.75 21.7,-44.75 L21.7,44.75 Q21.7,52.75 13.7,52.75 L-13.7,52.75 Q-21.7,52.75 -21.7,44.75 L-21.7,-44.75 Q-21.7,-52.75 -13.7,-52.75 Z" fill="#b4b4b4"/><path d="M-20.7,42.75 Q-20.7,51.75 -11.7,51.75 M20.7,42.75 Q20.7,51.75 11.7,51.75" stroke="#c93434" stroke-width="1.9" fill="none" stroke-opacity="0.8"/><path d="M-19.7,-44.75 Q-19.7,-50.75 -13.7,-50.75 L9.7,-50.75 Q-13.7,-44.75 -19.7,-20.5 Z" fill="#cfcfcf" fill-opacity="0.75"/><path d="M19.7,44.75 Q19.7,50.75 13.7,50.75 L-9.7,50.75 Q13.7,44.75 19.7,31.5 Z" fill="#cfcfcf" fill-opacity="0.6"/><path d="M19.7,-44.75 L19.7,-18.5 Q15.7,-40.75 7.699999999999999,-50.25 L13.7,-50.75 Q19.7,-50.75 19.7,-44.75 Z" fill="#8c8c8c" fill-opacity="0.35"/><path d="M-20.7,-18.5 L-25.9,-16.0 L-25.3,-14.0 L-20.7,-14.8 Z" fill="#cfcfcf"/><path d="M20.7,-18.5 L25.9,-16.0 L25.3,-14.0 L20.7,-14.8 Z" fill="#cfcfcf"/><path d="M-19.5,-18.0 Q0,-26.0 19.5,-18.0 L18.5,26.5 Q0,33.5 -18.5,26.5 Z" fill="#050505"/><rect x="-13.6" y="-11" width="27.2" height="32" fill="#b4b4b4"/><path d="M-13.6,-11 L-20.0,-18.5 M13.6,-11 L20.0,-18.5 M-13.6,21 L-19.5,26.5 M13.6,21 L19.5,26.5" stroke="#cfcfcf" stroke-width="1.3" fill="none"/><path d="M-13.6,3.0 L-20.0,3.0 M13.6,3.0 L20.0,3.0" stroke="#cfcfcf" stroke-width="1.3" fill="none"/><path d="M-13.6,-11 L-4.6,-11 L13.6,13 L13.6,21 L7.6,21 Z" fill="#cfcfcf" fill-opacity="0.35"/></g>
<g transform="translate(1015.5,405.1) rotate(-90)"><path d="M-13.7,-52.75 L13.7,-52.75 Q21.7,-52.75 21.7,-44.75 L21.7,44.75 Q21.7,52.75 13.7,52.75 L-13.7,52.75 Q-21.7,52.75 -21.7,44.75 L-21.7,-44.75 Q-21.7,-52.75 -13.7,-52.75 Z" transform="translate(-4.50,5.00)" fill="#000" fill-opacity="0.33"/><path d="M-22.3,43.75 Q-22.3,53.55 -12.7,53.55 L-12.7,50.75 L-19.7,43.75 Z" fill="#c93434"/><path d="M22.3,43.75 Q22.3,53.55 12.7,53.55 L12.7,50.75 L19.7,43.75 Z" fill="#c93434"/><path d="M-13.7,-52.75 L13.7,-52.75 Q21.7,-52.75 21.7,-44.75 L21.7,44.75 Q21.7,52.75 13.7,52.75 L-13.7,52.75 Q-21.7,52.75 -21.7,44.75 L-21.7,-44.75 Q-21.7,-52.75 -13.7,-52.75 Z" fill="#b4b4b4"/><path d="M-20.7,42.75 Q-20.7,51.75 -11.7,51.75 M20.7,42.75 Q20.7,51.75 11.7,51.75" stroke="#c93434" stroke-width="1.9" fill="none" stroke-opacity="0.8"/><path d="M-19.7,-44.75 Q-19.7,-50.75 -13.7,-50.75 L9.7,-50.75 Q-13.7,-44.75 -19.7,-20.5 Z" fill="#cfcfcf" fill-opacity="0.75"/><path d="M19.7,44.75 Q19.7,50.75 13.7,50.75 L-9.7,50.75 Q13.7,44.75 19.7,31.5 Z" fill="#cfcfcf" fill-opacity="0.6"/><path d="M19.7,-44.75 L19.7,-18.5 Q15.7,-40.75 7.699999999999999,-50.25 L13.7,-50.75 Q19.7,-50.75 19.7,-44.75 Z" fill="#8c8c8c" fill-opacity="0.35"/><path d="M-20.7,-18.5 L-25.9,-16.0 L-25.3,-14.0 L-20.7,-14.8 Z" fill="#cfcfcf"/><path d="M20.7,-18.5 L25.9,-16.0 L25.3,-14.0 L20.7,-14.8 Z" fill="#cfcfcf"/><path d="M-19.5,-18.0 Q0,-26.0 19.5,-18.0 L18.5,26.5 Q0,33.5 -18.5,26.5 Z" fill="#050505"/><rect x="-13.6" y="-11" width="27.2" height="32" fill="#b4b4b4"/><path d="M-13.6,-11 L-20.0,-18.5 M13.6,-11 L20.0,-18.5 M-13.6,21 L-19.5,26.5 M13.6,21 L19.5,26.5" stroke="#cfcfcf" stroke-width="1.3" fill="none"/><path d="M-13.6,3.0 L-20.0,3.0 M13.6,3.0 L20.0,3.0" stroke="#cfcfcf" stroke-width="1.3" fill="none"/><path d="M-13.6,-11 L-4.6,-11 L13.6,13 L13.6,21 L7.6,21 Z" fill="#cfcfcf" fill-opacity="0.35"/></g>
<g transform="translate(18,610.5) rotate(90)"><path d="M-12.75,-51.75 L12.75,-51.75 Q20.75,-51.75 20.75,-43.75 L20.75,43.75 Q20.75,51.75 12.75,51.75 L-12.75,51.75 Q-20.75,51.75 -20.75,43.75 L-20.75,-43.75 Q-20.75,-51.75 -12.75,-51.75 Z" transform="translate(4.50,-5.00)" fill="#000" fill-opacity="0.33"/><path d="M-21.35,42.75 Q-21.35,52.55 -11.75,52.55 L-11.75,49.75 L-18.75,42.75 Z" fill="#c93434"/><path d="M21.35,42.75 Q21.35,52.55 11.75,52.55 L11.75,49.75 L18.75,42.75 Z" fill="#c93434"/><path d="M-12.75,-51.75 L12.75,-51.75 Q20.75,-51.75 20.75,-43.75 L20.75,43.75 Q20.75,51.75 12.75,51.75 L-12.75,51.75 Q-20.75,51.75 -20.75,43.75 L-20.75,-43.75 Q-20.75,-51.75 -12.75,-51.75 Z" fill="#b4b4b4"/><path d="M-19.75,41.75 Q-19.75,50.75 -10.75,50.75 M19.75,41.75 Q19.75,50.75 10.75,50.75" stroke="#c93434" stroke-width="1.9" fill="none" stroke-opacity="0.8"/><path d="M-18.75,-43.75 Q-18.75,-49.75 -12.75,-49.75 L8.75,-49.75 Q-12.75,-43.75 -18.75,-20.5 Z" fill="#cfcfcf" fill-opacity="0.75"/><path d="M18.75,43.75 Q18.75,49.75 12.75,49.75 L-8.75,49.75 Q12.75,43.75 18.75,31.5 Z" fill="#cfcfcf" fill-opacity="0.6"/><path d="M18.75,-43.75 L18.75,-18.5 Q14.75,-39.75 6.75,-49.25 L12.75,-49.75 Q18.75,-49.75 18.75,-43.75 Z" fill="#8c8c8c" fill-opacity="0.35"/><path d="M-19.75,-18.5 L-24.95,-16.0 L-24.35,-14.0 L-19.75,-14.8 Z" fill="#cfcfcf"/><path d="M19.75,-18.5 L24.95,-16.0 L24.35,-14.0 L19.75,-14.8 Z" fill="#cfcfcf"/><path d="M-18.55,-18.0 Q0,-26.0 18.55,-18.0 L17.55,26.5 Q0,33.5 -17.55,26.5 Z" fill="#050505"/><rect x="-13.6" y="-11" width="27.2" height="32" fill="#b4b4b4"/><path d="M-13.6,-11 L-19.05,-18.5 M13.6,-11 L19.05,-18.5 M-13.6,21 L-18.55,26.5 M13.6,21 L18.55,26.5" stroke="#cfcfcf" stroke-width="1.3" fill="none"/><path d="M-13.6,3.0 L-19.05,3.0 M13.6,3.0 L19.05,3.0" stroke="#cfcfcf" stroke-width="1.3" fill="none"/><path d="M-13.6,-11 L-4.6,-11 L13.6,13 L13.6,21 L7.6,21 Z" fill="#cfcfcf" fill-opacity="0.35"/></g>
<g transform="translate(140,610.5) rotate(90)"><path d="M-12.75,-49.75 L12.75,-49.75 Q20.75,-49.75 20.75,-41.75 L20.75,41.75 Q20.75,49.75 12.75,49.75 L-12.75,49.75 Q-20.75,49.75 -20.75,41.75 L-20.75,-41.75 Q-20.75,-49.75 -12.75,-49.75 Z" transform="translate(4.50,-5.00)" fill="#000" fill-opacity="0.33"/><path d="M-21.35,40.75 Q-21.35,50.55 -11.75,50.55 L-11.75,47.75 L-18.75,40.75 Z" fill="#c93434"/><path d="M21.35,40.75 Q21.35,50.55 11.75,50.55 L11.75,47.75 L18.75,40.75 Z" fill="#c93434"/><path d="M-12.75,-49.75 L12.75,-49.75 Q20.75,-49.75 20.75,-41.75 L20.75,41.75 Q20.75,49.75 12.75,49.75 L-12.75,49.75 Q-20.75,49.75 -20.75,41.75 L-20.75,-41.75 Q-20.75,-49.75 -12.75,-49.75 Z" fill="#b4b4b4"/><path d="M-19.75,39.75 Q-19.75,48.75 -10.75,48.75 M19.75,39.75 Q19.75,48.75 10.75,48.75" stroke="#c93434" stroke-width="1.9" fill="none" stroke-opacity="0.8"/><path d="M-18.75,-41.75 Q-18.75,-47.75 -12.75,-47.75 L8.75,-47.75 Q-12.75,-41.75 -18.75,-20.5 Z" fill="#cfcfcf" fill-opacity="0.75"/><path d="M18.75,41.75 Q18.75,47.75 12.75,47.75 L-8.75,47.75 Q12.75,41.75 18.75,31.5 Z" fill="#cfcfcf" fill-opacity="0.6"/><path d="M18.75,-41.75 L18.75,-18.5 Q14.75,-37.75 6.75,-47.25 L12.75,-47.75 Q18.75,-47.75 18.75,-41.75 Z" fill="#8c8c8c" fill-opacity="0.35"/><path d="M-19.75,-18.5 L-24.95,-16.0 L-24.35,-14.0 L-19.75,-14.8 Z" fill="#cfcfcf"/><path d="M19.75,-18.5 L24.95,-16.0 L24.35,-14.0 L19.75,-14.8 Z" fill="#cfcfcf"/><path d="M-18.55,-18.0 Q0,-26.0 18.55,-18.0 L17.55,26.5 Q0,33.5 -17.55,26.5 Z" fill="#050505"/><rect x="-13.6" y="-11" width="27.2" height="32" fill="#b4b4b4"/><path d="M-13.6,-11 L-19.05,-18.5 M13.6,-11 L19.05,-18.5 M-13.6,21 L-18.55,26.5 M13.6,21 L18.55,26.5" stroke="#cfcfcf" stroke-width="1.3" fill="none"/><path d="M-13.6,3.0 L-19.05,3.0 M13.6,3.0 L19.05,3.0" stroke="#cfcfcf" stroke-width="1.3" fill="none"/><path d="M-13.6,-11 L-4.6,-11 L13.6,13 L13.6,21 L7.6,21 Z" fill="#cfcfcf" fill-opacity="0.35"/></g>
<g transform="translate(615.8,880.2) rotate(0)"><path d="M-12.5,-50.75 L12.5,-50.75 Q20.5,-50.75 20.5,-42.75 L20.5,42.75 Q20.5,50.75 12.5,50.75 L-12.5,50.75 Q-20.5,50.75 -20.5,42.75 L-20.5,-42.75 Q-20.5,-50.75 -12.5,-50.75 Z" transform="translate(5.00,4.50)" fill="#000" fill-opacity="0.33"/><path d="M-21.1,41.75 Q-21.1,51.55 -11.5,51.55 L-11.5,48.75 L-18.5,41.75 Z" fill="#c93434"/><path d="M21.1,41.75 Q21.1,51.55 11.5,51.55 L11.5,48.75 L18.5,41.75 Z" fill="#c93434"/><path d="M-12.5,-50.75 L12.5,-50.75 Q20.5,-50.75 20.5,-42.75 L20.5,42.75 Q20.5,50.75 12.5,50.75 L-12.5,50.75 Q-20.5,50.75 -20.5,42.75 L-20.5,-42.75 Q-20.5,-50.75 -12.5,-50.75 Z" fill="#b4b4b4"/><path d="M-19.5,40.75 Q-19.5,49.75 -10.5,49.75 M19.5,40.75 Q19.5,49.75 10.5,49.75" stroke="#c93434" stroke-width="1.9" fill="none" stroke-opacity="0.8"/><path d="M-18.5,-42.75 Q-18.5,-48.75 -12.5,-48.75 L8.5,-48.75 Q-12.5,-42.75 -18.5,-20.5 Z" fill="#cfcfcf" fill-opacity="0.75"/><path d="M18.5,42.75 Q18.5,48.75 12.5,48.75 L-8.5,48.75 Q12.5,42.75 18.5,31.5 Z" fill="#cfcfcf" fill-opacity="0.6"/><path d="M18.5,-42.75 L18.5,-18.5 Q14.5,-38.75 6.5,-48.25 L12.5,-48.75 Q18.5,-48.75 18.5,-42.75 Z" fill="#8c8c8c" fill-opacity="0.35"/><path d="M-19.5,-18.5 L-24.7,-16.0 L-24.1,-14.0 L-19.5,-14.8 Z" fill="#cfcfcf"/><path d="M19.5,-18.5 L24.7,-16.0 L24.1,-14.0 L19.5,-14.8 Z" fill="#cfcfcf"/><path d="M-18.3,-18.0 Q0,-26.0 18.3,-18.0 L17.3,26.5 Q0,33.5 -17.3,26.5 Z" fill="#050505"/><rect x="-13.6" y="-11" width="27.2" height="32" fill="#b4b4b4"/><path d="M-13.6,-11 L-18.8,-18.5 M13.6,-11 L18.8,-18.5 M-13.6,21 L-18.3,26.5 M13.6,21 L18.3,26.5" stroke="#cfcfcf" stroke-width="1.3" fill="none"/><path d="M-13.6,3.0 L-18.8,3.0 M13.6,3.0 L18.8,3.0" stroke="#cfcfcf" stroke-width="1.3" fill="none"/><path d="M-13.6,-11 L-4.6,-11 L13.6,13 L13.6,21 L7.6,21 Z" fill="#cfcfcf" fill-opacity="0.35"/></g>
<g transform="translate(615.8,1001.5) rotate(0)"><path d="M-12.5,-51.0 L12.5,-51.0 Q20.5,-51.0 20.5,-43.0 L20.5,43.0 Q20.5,51.0 12.5,51.0 L-12.5,51.0 Q-20.5,51.0 -20.5,43.0 L-20.5,-43.0 Q-20.5,-51.0 -12.5,-51.0 Z" transform="translate(5.00,4.50)" fill="#000" fill-opacity="0.33"/><path d="M-21.1,42.0 Q-21.1,51.8 -11.5,51.8 L-11.5,49.0 L-18.5,42.0 Z" fill="#c93434"/><path d="M21.1,42.0 Q21.1,51.8 11.5,51.8 L11.5,49.0 L18.5,42.0 Z" fill="#c93434"/><path d="M-12.5,-51.0 L12.5,-51.0 Q20.5,-51.0 20.5,-43.0 L20.5,43.0 Q20.5,51.0 12.5,51.0 L-12.5,51.0 Q-20.5,51.0 -20.5,43.0 L-20.5,-43.0 Q-20.5,-51.0 -12.5,-51.0 Z" fill="#b4b4b4"/><path d="M-19.5,41.0 Q-19.5,50.0 -10.5,50.0 M19.5,41.0 Q19.5,50.0 10.5,50.0" stroke="#c93434" stroke-width="1.9" fill="none" stroke-opacity="0.8"/><path d="M-18.5,-43.0 Q-18.5,-49.0 -12.5,-49.0 L8.5,-49.0 Q-12.5,-43.0 -18.5,-20.5 Z" fill="#cfcfcf" fill-opacity="0.75"/><path d="M18.5,43.0 Q18.5,49.0 12.5,49.0 L-8.5,49.0 Q12.5,43.0 18.5,31.5 Z" fill="#cfcfcf" fill-opacity="0.6"/><path d="M18.5,-43.0 L18.5,-18.5 Q14.5,-39.0 6.5,-48.5 L12.5,-49.0 Q18.5,-49.0 18.5,-43.0 Z" fill="#8c8c8c" fill-opacity="0.35"/><path d="M-19.5,-18.5 L-24.7,-16.0 L-24.1,-14.0 L-19.5,-14.8 Z" fill="#cfcfcf"/><path d="M19.5,-18.5 L24.7,-16.0 L24.1,-14.0 L19.5,-14.8 Z" fill="#cfcfcf"/><path d="M-18.3,-18.0 Q0,-26.0 18.3,-18.0 L17.3,26.5 Q0,33.5 -17.3,26.5 Z" fill="#050505"/><rect x="-13.6" y="-11" width="27.2" height="32" fill="#b4b4b4"/><path d="M-13.6,-11 L-18.8,-18.5 M13.6,-11 L18.8,-18.5 M-13.6,21 L-18.3,26.5 M13.6,21 L18.3,26.5" stroke="#cfcfcf" stroke-width="1.3" fill="none"/><path d="M-13.6,3.0 L-18.8,3.0 M13.6,3.0 L18.8,3.0" stroke="#cfcfcf" stroke-width="1.3" fill="none"/><path d="M-13.6,-11 L-4.6,-11 L13.6,13 L13.6,21 L7.6,21 Z" fill="#cfcfcf" fill-opacity="0.35"/></g>
<ellipse cx="360" cy="388" rx="6" ry="5.1" fill="#000" fill-opacity="0.45" filter="url(#blur2)"/>
<g><path d="M357.2,370.5 L359.2,370.5 L358.6,377 L356.8,377 Z" fill="#e8e4cf"/><path d="M371.5,382.5 L373.3,383 L371.8,391 L370,390.6 Z" fill="#e8e4cf"/><ellipse cx="371" cy="375.8" rx="2.6" ry="3.4" fill="#b02024"/><ellipse cx="365" cy="383.6" rx="5.4" ry="3.4" fill="#efd6b0"/><path d="M359.2,379.5 C359.2,373.5 362.5,370.5 364.8,370.8 C367.5,371 370.5,374 370.6,379.5 C370.6,381.6 368,382.3 364.9,382.3 C361.8,382.3 359.2,381.6 359.2,379.5 Z" fill="#0c0c12"/><ellipse cx="368" cy="370.2" rx="1.3" ry="1.7" fill="#0c0c12"/><ellipse cx="363.2" cy="389.6" rx="1.2" ry="1.6" fill="#0c0c12"/></g>
<ellipse cx="644" cy="366.5" rx="6.5" ry="5.5249999999999995" fill="#000" fill-opacity="0.45" filter="url(#blur2)"/>
<g><ellipse cx="634.6" cy="358.3" rx="4.7" ry="11.6" fill="#b51be0"/><path d="M624,353.5 L630.5,350" stroke="#f4c9a8" stroke-width="1.6" fill="none"/><rect x="620" y="352.3" width="4.4" height="3.6" rx="1" fill="#fff"/><circle cx="635.8" cy="358.8" r="6" fill="#0a0612"/><path d="M640,355 L644.6,359 L640,362.6 Z" fill="#0a0612"/><circle cx="635.8" cy="358.8" r="3.4" fill="#2a2f2a"/></g>
<ellipse cx="672" cy="586" rx="6" ry="5.1" fill="#000" fill-opacity="0.45" filter="url(#blur2)"/>
<g><ellipse cx="664.3" cy="579" rx="11" ry="5.6" fill="#e8141c"/><ellipse cx="662.8" cy="576" rx="5.2" ry="2.6" fill="#f6cfa4"/><path d="M657.8,581 C658,577 660,576.6 663,576.6 C666,576.6 668,577.5 668,581 C668,585 665,589.5 663.5,589.5 C661.5,589.5 657.8,585 657.8,581 Z" fill="#07070c"/><ellipse cx="665.6" cy="569.2" rx="1.2" ry="1.6" fill="#07070c"/><ellipse cx="660.4" cy="589.5" rx="1.2" ry="2" fill="#07070c"/><path d="M670.6,584 L670.2,590.5" stroke="#f6d8b0" stroke-width="2" fill="none"/></g>
<ellipse cx="369" cy="657" rx="5.5" ry="4.675" fill="#000" fill-opacity="0.45" filter="url(#blur2)"/>
<g><ellipse cx="362.6" cy="648" rx="5.1" ry="8.2" fill="#3a8ae0"/><rect x="372.6" y="641.6" width="3.2" height="12.6" fill="#a8d4f4"/><rect x="367.4" y="641" width="4.6" height="14" fill="#efe9d8"/><circle cx="363" cy="648.6" r="4.6" fill="#14100c"/><circle cx="364.2" cy="648.6" r="4" fill="#f6d3a6"/><circle cx="360.6" cy="648.6" r="4.4" fill="#c2501a"/></g>
<ellipse cx="666" cy="667.5" rx="6" ry="5.1" fill="#000" fill-opacity="0.45" filter="url(#blur2)"/>
<g><rect x="647.6" y="654" width="6.6" height="12" rx="1.6" fill="#ece6dc"/><ellipse cx="660.4" cy="659.6" rx="5.3" ry="9.2" fill="#f08a10"/><circle cx="660" cy="660.2" r="5.1" fill="#ffbe0a"/></g>
<path d="M392.7,44.5 L412.2,64 L446.4,30" fill="none" stroke="#12f212" stroke-width="10.6" stroke-linejoin="miter" stroke-miterlimit="10"/>
<path d="M388.59999999999997,136.4 L437.8,185.6 M437.8,136.4 L388.59999999999997,185.6" fill="none" stroke="#fa1414" stroke-width="10.4"/>
<path d="M388.2,276.4 L437.40000000000003,325.6 M437.40000000000003,276.4 L388.2,325.6" fill="none" stroke="#fa1414" stroke-width="10.4"/>
<path d="M732.0,381.0 L781.2,430.20000000000005 M781.2,381.0 L732.0,430.20000000000005" fill="none" stroke="#fa1414" stroke-width="10.4"/>
<path d="M866.2,393.3 L885.7,412.8 L919.9000000000001,378.8" fill="none" stroke="#12f212" stroke-width="10.6" stroke-linejoin="miter" stroke-miterlimit="10"/>
<path d="M966.5,392.1 L986,411.6 L1020.2,377.6" fill="none" stroke="#12f212" stroke-width="10.6" stroke-linejoin="miter" stroke-miterlimit="10"/>
<path d="M3.1000000000000014,601.2 L22.6,620.7 L56.800000000000004,586.7" fill="none" stroke="#12f212" stroke-width="10.6" stroke-linejoin="miter" stroke-miterlimit="10"/>
<path d="M112.80000000000001,601.2 L132.3,620.7 L166.5,586.7" fill="none" stroke="#12f212" stroke-width="10.6" stroke-linejoin="miter" stroke-miterlimit="10"/>
<path d="M597.4,873.0 L616.9,892.5 L651.1,858.5" fill="none" stroke="#12f212" stroke-width="10.6" stroke-linejoin="miter" stroke-miterlimit="10"/>
<path d="M601.5,988.8 L621,1008.3 L655.2,974.3" fill="none" stroke="#12f212" stroke-width="10.6" stroke-linejoin="miter" stroke-miterlimit="10"/>
<path d="M342.6,194 L441.6,194 M342.6,334 L441.6,334" stroke="#e9e25a" stroke-width="2.2" stroke-dasharray="6.6 5.2" fill="none"/>
<path d="M357,202 L357,326" stroke="#ffe633" stroke-width="3.9" fill="none"/>
<path d="M357,196.2 L367.6,207.2 L346.4,207.2 Z M357,331.8 L367.6,320.8 L346.4,320.8 Z" fill="#ffe633"/>
<ellipse cx="357" cy="262" rx="23.6" ry="19.8" fill="#ffe633"/>
<text transform="translate(338.4,267.7) scale(1.15,1)" font-family="'Liberation Sans', Arial, sans-serif" font-weight="700" font-size="16.7" word-spacing="-3.3" fill="#0a0a0a" stroke="#0a0a0a" stroke-width="0.35">20 ft.</text>
<path d="M689.2,338.8 L689.2,437.6 M832.5,338.8 L832.5,437.6" stroke="#e9e25a" stroke-width="2.2" stroke-dasharray="6.6 5.2" fill="none"/>
<path d="M697.2,352.8 L824.5,352.8" stroke="#ffe633" stroke-width="3.9" fill="none"/>
<path d="M691.8000000000001,352.8 L703.0,342.40000000000003 L703.0,363.2 Z M829.9,352.8 L818.7,342.40000000000003 L818.7,363.2 Z" fill="#ffe633"/>
<ellipse cx="764" cy="351.5" rx="23.6" ry="19.8" fill="#ffe633"/>
<text transform="translate(745.4,357.2) scale(1.15,1)" font-family="'Liberation Sans', Arial, sans-serif" font-weight="700" font-size="16.7" word-spacing="-3.3" fill="#0a0a0a" stroke="#0a0a0a" stroke-width="0.35">20 ft.</text>
<path d="M192.6,578.9 L192.6,677.2 M334.3,578.9 L334.3,677.2" stroke="#e9e25a" stroke-width="2.2" stroke-dasharray="6.6 5.2" fill="none"/>
<path d="M200.6,662.6 L326.3,662.6" stroke="#ffe633" stroke-width="3.9" fill="none"/>
<path d="M195.2,662.6 L206.4,652.2 L206.4,673.0 Z M331.7,662.6 L320.5,652.2 L320.5,673.0 Z" fill="#ffe633"/>
<ellipse cx="265.4" cy="662.8" rx="23.6" ry="19.8" fill="#ffe633"/>
<text transform="translate(246.79999999999998,668.5) scale(1.15,1)" font-family="'Liberation Sans', Arial, sans-serif" font-weight="700" font-size="16.7" word-spacing="-3.3" fill="#0a0a0a" stroke="#0a0a0a" stroke-width="0.35">20 ft.</text>
<path d="M583.3,684.8 L681.6,684.8 M583.3,826.8 L681.6,826.8" stroke="#e9e25a" stroke-width="2.2" stroke-dasharray="6.6 5.2" fill="none"/>
<path d="M667.7,692.8 L667.7,818.8" stroke="#ffe633" stroke-width="3.9" fill="none"/>
<path d="M667.7,687.0 L678.3000000000001,698.0 L657.1,698.0 Z M667.7,824.5999999999999 L678.3000000000001,813.5999999999999 L657.1,813.5999999999999 Z" fill="#ffe633"/>
<ellipse cx="668" cy="765.5" rx="23.6" ry="19.8" fill="#ffe633"/>
<text transform="translate(649.4,771.2) scale(1.15,1)" font-family="'Liberation Sans', Arial, sans-serif" font-weight="700" font-size="16.7" word-spacing="-3.3" fill="#0a0a0a" stroke="#0a0a0a" stroke-width="0.35">20 ft.</text>
</svg>
</body>
</html>
